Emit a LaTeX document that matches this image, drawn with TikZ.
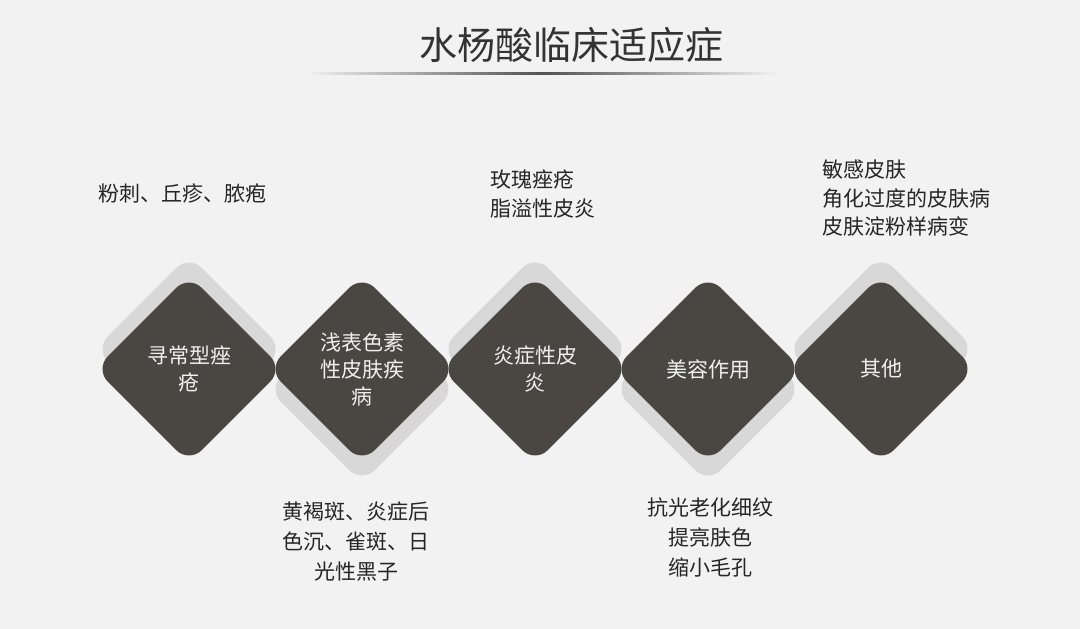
\documentclass[tikz,border=0pt]{standalone}
\usepackage{fontspec}
\setmainfont{Noto Sans CJK SC}
\usetikzlibrary{shapes.geometric}
\definecolor{bg}{HTML}{F2F2F2}
\definecolor{dia}{HTML}{4A4641}
\definecolor{shd}{HTML}{D8D8D8}
\definecolor{txt}{HTML}{262626}
\definecolor{ttl}{HTML}{333333}
\begin{document}
\begin{tikzpicture}[x=1pt,y=-1pt,
  dbox/.style={diamond, aspect=1, minimum width=188pt, minimum height=188pt,
    inner sep=0pt, rounded corners=18pt, fill=dia, text=white!92!dia,
    font=\fontsize{21}{27}\selectfont, align=center},
  sbox/.style={diamond, aspect=1, minimum width=188pt, minimum height=188pt,
    inner sep=0pt, rounded corners=18pt, fill=shd},
  lbl/.style={text=txt, inner sep=0pt}]
\fill[bg] (0,0) rectangle (1080,629);
\useasboundingbox (0,0) rectangle (1080,629);
% title
\node[font=\fontsize{38}{40}\selectfont, text=ttl] (title) at (571,45) {水杨酸临床适应症};
\shade[left color=bg, right color=bg, middle color=ttl!85] (306,72) rectangle (778,74.5);
% shadows
\node[sbox] (s1) at (189,349) {};
\node[sbox] (s2) at (362,389) {};
\node[sbox] (s3) at (535,349) {};
\node[sbox] (s4) at (708,389) {};
\node[sbox] (s5) at (881,349) {};
% diamonds
\node[dbox] (d1) at (189,369) {寻常型痤\\疮};
\node[dbox] (d2) at (362,369) {浅表色素\\性皮肤疾\\病};
\node[dbox] (d3) at (535,369) {炎症性皮\\炎};
\node[dbox] (d4) at (708,369) {美容作用};
\node[dbox] (d5) at (881,369) {其他};
% labels
\node[lbl, anchor=west, font=\fontsize{21}{28.5}\selectfont] (l1) at (98,193) {粉刺、丘疹、脓疱};
\node[lbl, anchor=west, align=left, font=\fontsize{21}{28.5}\selectfont] (l3) at (490,194) {玫瑰痤疮\\脂溢性皮炎};
\node[lbl, anchor=west, align=left, font=\fontsize{21}{28.5}\selectfont] (l5) at (822,198.5) {敏感皮肤\\角化过度的皮肤病\\皮肤淀粉样病变};
\node[lbl, align=center, font=\fontsize{21}{30}\selectfont] (l2) at (356,542) {黄褐斑、炎症后\\色沉、雀斑、日\\光性黑子};
\node[lbl, align=center, font=\fontsize{21}{30}\selectfont] (l4) at (710,537) {抗光老化细纹\\提亮肤色\\缩小毛孔};
\end{tikzpicture}
\end{document}
